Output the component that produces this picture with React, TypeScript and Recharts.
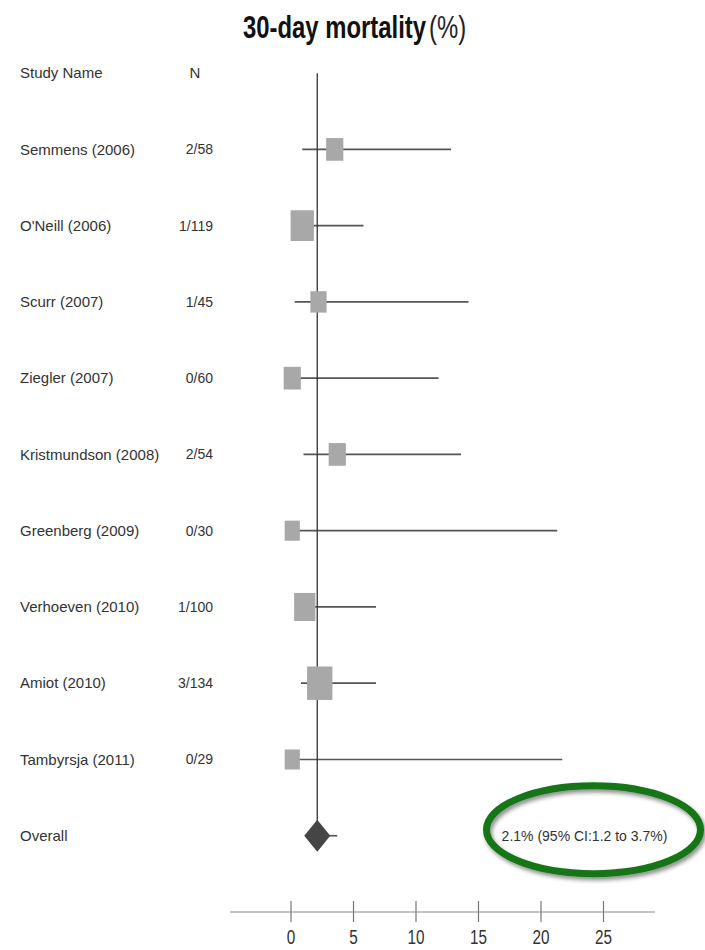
import React from "react";
import { ScatterChart, Scatter, XAxis, YAxis, ErrorBar, ReferenceLine, ReferenceDot } from "recharts";

// study-level data
const studyNames = [
  "Semmens (2006)",
  "O'Neill (2006)",
  "Scurr (2007)",
  "Ziegler (2007)",
  "Kristmundson (2008)",
  "Greenberg (2009)",
  "Verhoeven (2010)",
  "Amiot (2010)",
  "Tambyrsja (2011)",
];
const eventCounts = ["2/58", "1/119", "1/45", "0/60", "2/54", "0/30", "1/100", "3/134", "0/29"];
const estimates = [3.5, 0.9, 2.2, 0.1, 3.7, 0.1, 1.1, 2.3, 0.1];
const lowerCI = [0.9, 0.2, 0.3, 0.1, 1.0, 0.1, 0.3, 0.8, 0.1];
const upperCI = [12.8, 5.8, 14.2, 11.8, 13.6, 21.3, 6.8, 6.8, 21.7];
const weights = [9.1, 16.7, 8.1, 9.1, 9.1, 7.1, 13.9, 19.7, 7.1];

const overallEstimate = 2.1;
const overallLower = 1.2;
const overallUpper = 3.7;
const overallText = "2.1% (95% CI:1.2 to 3.7%)";

const xTicks = [0, 5, 10, 15, 20, 25];

const studyRows = studyNames.map((name, i) => ({
  row: i + 1,
  est: estimates[i],
  err: [estimates[i] - lowerCI[i], upperCI[i] - estimates[i]],
  weight: weights[i],
}));
const overallRow = [
  { row: studyNames.length + 1, est: overallEstimate, err: [overallEstimate - overallLower, overallUpper - overallEstimate] },
];

const labelFont = "'Liberation Sans', Arial, sans-serif";
const textColor = "#333";

const StudyTick = (props: any) => {
  const { y, payload } = props;
  const i = payload.value;
  let name = "";
  let n = "";
  if (i === 0) name = "Study Name";
  else if (i <= studyNames.length) {
    name = studyNames[i - 1];
    n = eventCounts[i - 1];
  } else name = "Overall";
  return (
    <g>
      <text x={20} y={y} dy="0.35em" fontSize={15} fontFamily={labelFont} fill={textColor}>
        {name}
      </text>
      {i === 0 ? (
        <text x={195} y={y} dy="0.35em" textAnchor="middle" fontSize={15} fontFamily={labelFont} fill={textColor}>
          N
        </text>
      ) : (
        <text x={213} y={y} dy="0.35em" textAnchor="end" fontSize={14} fontFamily={labelFont} fill={textColor}>
          {n}
        </text>
      )}
    </g>
  );
};

const ValueTick = (props: any) => {
  const { x, y, payload } = props;
  const label = String(payload.value);
  const w = label.length * 8.5;
  return (
    <g>
      <line x1={x} x2={x} y1={y - 11} y2={y + 10} stroke="#777" strokeWidth={1.2} />
      <text
        x={x - w / 2}
        y={y + 32}
        fontSize={20}
        fontFamily={labelFont}
        fill={textColor}
        textLength={w}
        lengthAdjust="spacingAndGlyphs"
      >
        {label}
      </text>
    </g>
  );
};

const StudySquare = (props: any) => {
  const { cx, cy, payload } = props;
  const w = 5.7 * Math.sqrt(payload.weight);
  const h = w * 1.32;
  return <rect x={cx - w / 2} y={cy - h / 2} width={w} height={h} fill="#a8a8a8" />;
};

const Diamond = (props: any) => {
  const { cx, cy } = props;
  const hw = 13;
  const hh = 16;
  return (
    <polygon
      points={`${cx - hw},${cy} ${cx},${cy - hh} ${cx + hw},${cy} ${cx},${cy + hh}`}
      fill="#454545"
    />
  );
};

const NoMark = () => <g />;

const Callout = (props: any) => {
  const { cx, cy } = props;
  return (
    <g>
      <defs>
        <filter id="ellShadow" x="-20%" y="-30%" width="140%" height="160%">
          <feDropShadow dx="2" dy="3" stdDeviation="2" floodColor="#000" floodOpacity="0.45" />
        </filter>
      </defs>
      <ellipse cx={cx} cy={cy - 6} rx={107} ry={44} fill="none" stroke="#157515" strokeWidth={7} filter="url(#ellShadow)" />
      <text x={cx - 9} y={cy} dy="0.35em" textAnchor="middle" fontSize={14} fontFamily={labelFont} fill={textColor}>
        {overallText}
      </text>
    </g>
  );
};

export default function App() {
  return (
    <div style={{ position: "absolute", left: 0, top: 0, width: 705, height: 950, background: "#fff" }}>
      <ScatterChart width={705} height={950} margin={{ top: 35, right: 50, bottom: 0, left: 0 }}>
        <XAxis
          type="number"
          dataKey="est"
          domain={[-4.88, 29.12]}
          ticks={xTicks}
          allowDataOverflow
          height={38}
          axisLine={{ stroke: "#888", strokeWidth: 1.2 }}
          tickLine={false}
          tickSize={0}
          tickMargin={0}
          tick={<ValueTick />}
        />
        <YAxis
          type="number"
          dataKey="row"
          domain={[-0.5, 11]}
          ticks={[0, 1, 2, 3, 4, 5, 6, 7, 8, 9, 10]}
          reversed
          width={230}
          axisLine={false}
          tickLine={false}
          tick={<StudyTick />}
        />
        <Scatter data={studyRows} shape={<StudySquare />} isAnimationActive={false} />
        <Scatter data={studyRows} shape={<NoMark />} isAnimationActive={false}>
          <ErrorBar dataKey="err" direction="x" width={0} stroke="#555" strokeWidth={1.7} isAnimationActive={false} />
        </Scatter>
        <Scatter data={overallRow} shape={<Diamond />} isAnimationActive={false}>
          <ErrorBar dataKey="err" direction="x" width={0} stroke="#555" strokeWidth={1.7} isAnimationActive={false} />
        </Scatter>
        <ReferenceLine
          segment={[
            { x: overallEstimate, y: 0 },
            { x: overallEstimate, y: studyNames.length + 1 },
          ]}
          stroke="#333"
          strokeWidth={1.3}
        />
        <ReferenceDot x={24.2} y={10} r={1} shape={<Callout />} />
      </ScatterChart>
      <svg width={705} height={60} style={{ position: "absolute", left: 0, top: 0 }}>
        <g transform="translate(243,38) scale(0.77,1)">
          <text x={0} y={0} fontFamily={labelFont} fontSize={31} fill="#111">
            <tspan fontWeight="bold">30-day mortality</tspan>
            <tspan dx={4} fill="#222">(%)</tspan>
          </text>
        </g>
      </svg>
    </div>
  );
}
